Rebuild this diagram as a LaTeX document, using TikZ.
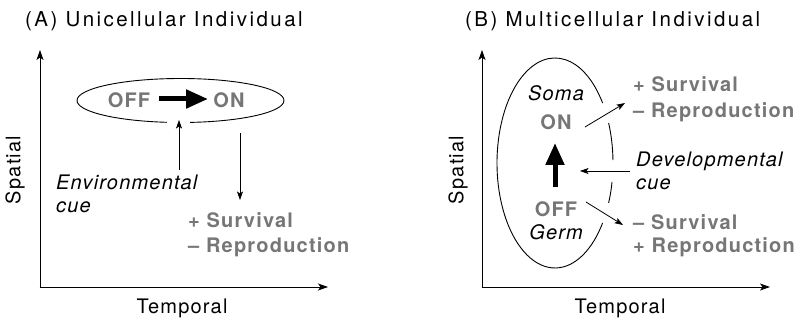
\documentclass[tikz,border=0pt]{standalone}
\usepackage{fontspec}
\setmainfont{TeX Gyre Heros}
\newfontfamily\lblfont[LetterSpace=6]{TeX Gyre Heros}
\newfontfamily\ttlfont[LetterSpace=12]{TeX Gyre Heros}
\usetikzlibrary{arrows.meta}
\definecolor{tgray}{HTML}{767676}
\tikzset{
  lbl/.style={inner sep=0pt, font=\fontsize{20}{24}\lblfont},
  ttl/.style={inner sep=0pt, font=\fontsize{20.5}{24}\ttlfont, anchor=base west},
  state/.style={inner sep=0pt, text=tgray, font=\fontsize{20}{24}\lblfont\bfseries},
  outc/.style={inner sep=0pt, text=tgray, font=\fontsize{20}{24}\lblfont\bfseries, anchor=base west},
  itl/.style={inner sep=0pt, font=\fontsize{20}{24}\lblfont\itshape, anchor=base west},
  axis/.style={line width=0.9pt, -{Stealth[length=10pt,width=7pt,inset=2.5pt]}},
  thin/.style={line width=0.8pt, -{Stealth[length=8.5pt,width=6pt,inset=2pt]}},
  bigarrow/.style={line width=5pt, -{Triangle[length=22pt,width=18pt]}},
  ell/.style={line width=0.9pt}
}
\begin{document}
\begin{tikzpicture}[x=1pt,y=1pt]
\useasboundingbox (0,0) rectangle (796,-323);
% ---------- Panel A ----------
\node[ttl] (ta) at (25,-27) {(A) Unicellular Individual};
\coordinate (oa) at (40,-287);
\coordinate (ya) at (40,-50);
\coordinate (xa) at (328,-287);
\draw[axis] ([yshift=-1pt]oa) -- (ya);
\draw[axis] ([xshift=-0.45pt]oa) -- (xa);
\node[lbl, rotate=90] (spa) at (15,-170) {Spatial};
\node[lbl] (tma) at (182,-308) {Temporal};
\draw[ell] (180.5,-100.5) ++(275.3:103.5 and 22) arc[start angle=275.3, end angle=622.5, x radius=103.5, y radius=22];
\node[state] (offa) at (129,-100) {OFF};
\node[state] (ona) at (229,-100) {ON};
\draw[bigarrow] ([xshift=30pt,yshift=1pt]offa.center) -- ([xshift=-21pt,yshift=1pt]ona.center);
\node[itl] (enva) at (56,-190) {Environmental};
\node[itl] (cuea) at (56,-213) {cue};
\coordinate (envtop) at (179,-170);
\coordinate (envtip) at (179,-120);
\draw[thin] (envtop) -- (envtip);
\node[outc] (sva) at (188,-228) {+ Survival};
\node[outc] (rpa) at (188,-253) {– Reproduction};
\coordinate (dnA) at (240,-133);
\coordinate (dnB) at (240,-200);
\draw[thin] (dnA) -- (dnB);
% ---------- Panel B ----------
\node[ttl] (tb) at (465,-27) {(B) Multicellular Individual};
\coordinate (ob) at (482,-287);
\coordinate (yb) at (482,-50);
\coordinate (xb) at (770,-287);
\draw[axis] ([yshift=-1pt]ob) -- (yb);
\draw[axis] ([xshift=-0.45pt]ob) -- (xb);
\node[lbl, rotate=90] (spb) at (458,-170) {Spatial};
\node[lbl] (tmb) at (620,-308) {Temporal};
\draw[ell] (555,-163) ++(34.8:58 and 105) arc[start angle=34.8, end angle=325.2, x radius=58, y radius=105];
\draw[ell] (555,-163) ++(1.6:58 and 105) arc[start angle=1.6, end angle=22.4, x radius=58, y radius=105];
\draw[ell] (555,-163) ++(-22.4:58 and 105) arc[start angle=-22.4, end angle=-10.4, x radius=58, y radius=105];
\node[itl, anchor=base] (soma) at (556,-101) {Soma};
\node[state] (onb) at (556,-122) {ON};
\node[state] (offb) at (556,-209) {OFF};
\node[itl, anchor=base] (germ) at (556,-240) {Germ};
\draw[bigarrow] ([xshift=-1pt,yshift=22pt]offb.center) -- ([xshift=-1pt,yshift=-21pt]onb.center);
\node[outc] (svb1) at (633,-92) {+ Survival};
\node[outc] (rpb1) at (633,-118) {– Reproduction};
\node[itl] (devb) at (636,-167) {Developmental};
\node[itl] (cueb) at (636,-190) {cue};
\node[outc] (svb2) at (633,-230) {– Survival};
\node[outc] (rpb2) at (633,-253) {+ Reproduction};
\coordinate (u1) at (585,-127);
\coordinate (u2) at (625,-103);
\draw[thin] (u1) -- (u2);
\coordinate (d1) at (630,-171);
\coordinate (d2) at (580,-171);
\draw[thin] (d1) -- (d2);
\coordinate (l1) at (586,-202);
\coordinate (l2) at (623,-225);
\draw[thin] (l1) -- (l2);
\end{tikzpicture}
\end{document}
